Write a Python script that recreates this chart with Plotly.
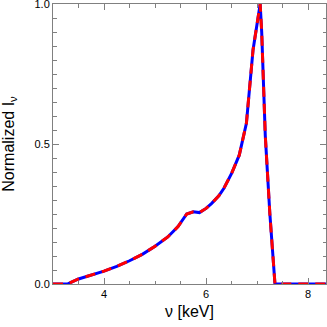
import plotly.graph_objects as go

energy_kev = [3.0, 3.28, 3.5, 3.75, 4.0, 4.25, 4.5, 4.75, 5.0, 5.25, 5.45, 5.62, 5.75, 5.87,
              6.0, 6.11, 6.25, 6.35, 6.5, 6.65, 6.79, 6.92, 6.98, 7.06, 7.09, 7.16, 7.25, 7.35, 7.5, 8.35]
flux_blue = [0.0, 0.0, 0.018, 0.032, 0.046, 0.063, 0.083, 0.106, 0.135, 0.168, 0.205, 0.25, 0.258, 0.255,
             0.27, 0.288, 0.315, 0.342, 0.395, 0.46, 0.574, 0.836, 0.907, 1.0, 0.9, 0.53, 0.25, 0.0, 0.0, 0.0]
flux_red = list(flux_blue)

x_ticks = [4, 6, 8]
y_ticks = [0.0, 0.5, 1.0]

fig = go.Figure()
fig.add_trace(go.Scatter(x=energy_kev, y=flux_blue, mode="lines",
                         line=dict(color="#0000ff", width=3), showlegend=False))
fig.add_trace(go.Scatter(x=energy_kev, y=flux_red, mode="lines",
                         line=dict(color="#ff0000", width=3, dash="10px,7px"), showlegend=False))

font_family = "Liberation Sans, Arial"
axis_common = dict(showline=True, linecolor="#808080", linewidth=1, mirror="ticks",
                   ticks="inside", tickcolor="#808080", ticklen=6, tickwidth=1,
                   showgrid=False, zeroline=False, automargin=False,
                   ticklabeloverflow="allow",
                   tickfont=dict(family=font_family, size=11, color="#000"))

fig.update_xaxes(range=[3.0, 8.35], tickvals=x_ticks, ticktext=[str(v) for v in x_ticks],
                 minor=dict(dtick=0.5, ticks="inside", ticklen=3.5, tickcolor="#808080", showgrid=False),
                 title=dict(text="ν [keV]", font=dict(family=font_family, size=16, color="#000"),
                            standoff=6),
                 **axis_common)
fig.update_yaxes(range=[0, 1.0], tickvals=y_ticks, ticktext=["%.1f" % v for v in y_ticks],
                 minor=dict(dtick=0.05, ticks="inside", ticklen=3.5, tickcolor="#808080", showgrid=False),
                 title=dict(text="Normalized I<sub>ν</sub>",
                            font=dict(family=font_family, size=16, color="#000"), standoff=17),
                 **axis_common)

fig.update_layout(width=327, height=327, margin=dict(l=53, r=1, t=4, b=43),
                  plot_bgcolor="white", paper_bgcolor="white")

fig.write_html("out.html", config={"displayModeBar": False},
               post_script="document.body.style.margin='0px';document.body.style.overflow='hidden';")
